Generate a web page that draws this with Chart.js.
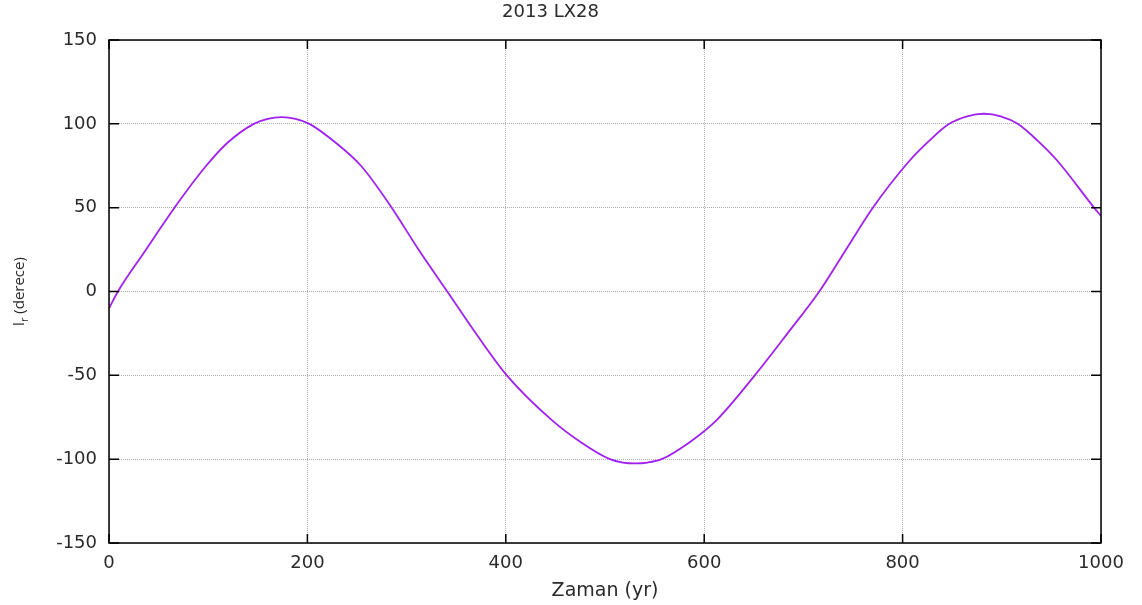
<!DOCTYPE html>
<html>
<head>
<meta charset="utf-8">
<script src="https://cdn.jsdelivr.net/npm/chart.js@4"></script>
<style>
  html, body { margin: 0; padding: 0; background: #fff; }
</style>
</head>
<body>
<canvas id="chart1" width="1142" height="605"></canvas>
<script>
const timeYr = [0, 9, 35, 66, 98, 120, 146, 160, 174, 188, 202, 228, 254, 285, 312, 341, 371, 401, 447, 476, 505, 518, 530, 543, 557, 585, 612, 651, 684, 716, 744, 770, 807, 827, 847, 865, 882, 899, 916, 936, 956, 993, 1000];
const lrDeg = [-10, 0, 23, 50, 75, 89, 100, 103, 104, 103, 100, 89, 75, 50, 25, 0, -26, -50, -77, -90, -100, -102, -102.5, -102, -100, -90, -77, -50, -25, 0, 26, 50, 78, 90, 100, 104.5, 106, 104.5, 100, 90, 78, 50, 45];
const xTicks = [0, 200, 400, 600, 800, 1000];
const yTicks = [-150, -100, -50, 0, 50, 100, 150];

const textColor = '#2a2a2a';
const tickFont = { family: 'DejaVu Sans', size: 18 };
const gridColor = 'rgba(140,140,140,0.7)';

// gnuplot-like frame: black box with inward ticks on all sides, plus the y label
const framePlugin = {
  id: 'frame',
  afterDraw(chart) {
    const ctx = chart.ctx;
    const a = chart.chartArea;
    const xs = chart.scales.x, ys = chart.scales.y;
    ctx.save();
    ctx.strokeStyle = '#000';
    ctx.lineWidth = 1.5;
    ctx.strokeRect(a.left, a.top, a.right - a.left, a.bottom - a.top);
    ctx.beginPath();
    xTicks.forEach(v => {
      const px = xs.getPixelForValue(v);
      ctx.moveTo(px, a.bottom); ctx.lineTo(px, a.bottom - 9);
      ctx.moveTo(px, a.top); ctx.lineTo(px, a.top + 9);
    });
    yTicks.forEach(v => {
      const py = ys.getPixelForValue(v);
      ctx.moveTo(a.left, py); ctx.lineTo(a.left + 10, py);
      ctx.moveTo(a.right, py); ctx.lineTo(a.right - 10, py);
    });
    ctx.stroke();

    // y axis label with subscript
    ctx.translate(20, (a.top + a.bottom) / 2);
    ctx.rotate(-Math.PI / 2);
    ctx.fillStyle = textColor;
    ctx.textBaseline = 'middle';
    const main = '15px "Open Sans"';
    const sub = '11px "Open Sans"';
    ctx.font = main;
    const wI = ctx.measureText('l').width;
    const rest = ' (derece)';
    const wRest = ctx.measureText(rest).width;
    ctx.font = sub;
    const wR = ctx.measureText('r').width;
    const x0 = -(wI + wR + wRest) / 2;
    ctx.font = main;
    ctx.fillText('l', x0, 0);
    ctx.font = sub;
    ctx.fillText('r', x0 + wI, 5);
    ctx.font = main;
    ctx.fillText(rest, x0 + wI + wR, 0);
    ctx.restore();
  }
};

document.addEventListener("DOMContentLoaded", function() {
  const ctx1 = document.getElementById('chart1').getContext('2d');
  new Chart(ctx1, {
    type: 'line',
    data: {
      datasets: [{
        label: '2013 LX28',
        data: timeYr.map((t, i) => ({ x: t, y: lrDeg[i] })),
        borderColor: '#a020f0',
        borderWidth: 1.8,
        pointRadius: 0,
        fill: false,
        cubicInterpolationMode: 'monotone'
      }]
    },
    options: {
      responsive: false,
      animation: false,
      layout: { padding: { left: 0, right: 41, top: 0, bottom: 0 } },
      plugins: {
        legend: { display: false },
        tooltip: { enabled: false },
        title: {
          display: true,
          text: '2013 LX28',
          color: textColor,
          font: { family: 'DejaVu Sans', size: 18, weight: 'normal' },
          padding: { top: 2, bottom: 16.4 }
        }
      },
      scales: {
        x: {
          type: 'linear',
          min: 0,
          max: 1000,
          afterBuildTicks: s => { s.ticks = xTicks.map(v => ({ value: v })); },
          afterFit: s => { s.height = 62; },
          ticks: { color: textColor, font: tickFont, padding: 10, maxRotation: 0, autoSkip: false, callback: v => String(v) },
          grid: { color: gridColor, lineWidth: 1, drawTicks: false },
          border: { display: false, dash: [1, 1] },
          title: {
            display: true,
            text: 'Zaman (yr)',
            color: textColor,
            font: { family: 'DejaVu Sans', size: 19 },
            padding: { top: 0, bottom: 2.5 }
          }
        },
        y: {
          min: -150,
          max: 150,
          afterBuildTicks: s => { s.ticks = yTicks.map(v => ({ value: v })); },
          afterFit: s => { s.width = 109; },
          ticks: { color: textColor, font: tickFont, padding: 12, autoSkip: false },
          grid: { color: gridColor, lineWidth: 1, drawTicks: false },
          border: { display: false, dash: [1, 1] }
        }
      }
    },
    plugins: [framePlugin]
  });
});
</script>
</body>
</html>
